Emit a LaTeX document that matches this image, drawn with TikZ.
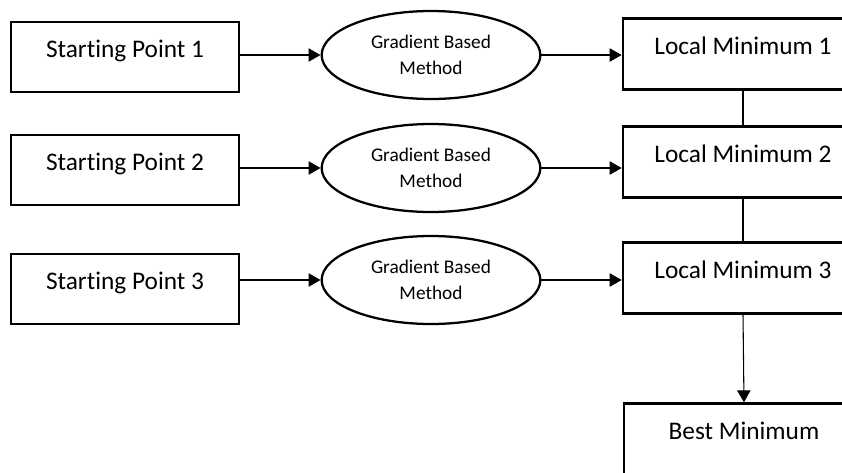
\documentclass[tikz,border=0pt]{standalone}
\usepackage{fontspec}
\setmainfont{Carlito}[Ligatures=NoCommon]
\usetikzlibrary{arrows.meta, shapes.geometric}
\definecolor{flowline}{HTML}{000000}

\begin{document}
\begin{tikzpicture}[
    x=0.75pt, y=-0.75pt,
    startnode/.style={
        draw,
        line width=2pt,
        minimum width=171pt,
        minimum height=52.5pt,
        font=\fontsize{19}{23}\selectfont,
        text height=12.3pt,
        text depth=12pt
    },
    minnode/.style={
        startnode,
        minimum width=180pt,
        minimum height=53pt
    },
    methodnode/.style={
        draw,
        ellipse,
        line width=1.7pt,
        inner sep=0pt,
        minimum width=164pt,
        minimum height=66pt,
        align=center,
        font=\fontsize{14.5}{19.5}\selectfont
    },
    flowlink/.style={
        -{Triangle[length=9pt, width=10pt]},
        line width=0.8pt,
        flowline
    },
    joinlink/.style={
        line width=0.8pt,
        flowline
    }
]
    \useasboundingbox (0,0) rectangle (842,472);
    \clip (0,0) rectangle (842,472);

    \node[startnode] (sp1) at (125,57) {Starting Point 1};
    \node[startnode] (sp2) at (125,170) {Starting Point 2};
    \node[startnode] (sp3) at (125,289) {Starting Point 3};

    \node[methodnode] (gbm1) at (431,55) {Gradient Based\\Method};
    \node[methodnode] (gbm2) at (431,168) {Gradient Based\\Method};
    \node[methodnode] (gbm3) at (431,280) {Gradient Based\\Method};

    \node[minnode] (lm1) at (743,54) {Local Minimum 1};
    \node[minnode] (lm2) at (743,162) {Local Minimum 2};
    \node[minnode] (lm3) at (743,278) {Local Minimum 3};
    \node[minnode] (best) at (744,439) {Best Minimum};

    \draw[flowlink] (sp1.east |- gbm1) -- (gbm1.west);
    \draw[flowlink] (sp2.east |- gbm2) -- (gbm2.west);
    \draw[flowlink] (sp3.east |- gbm3) -- (gbm3.west);

    \draw[flowlink] (gbm1.east) -- (gbm1.east -| lm1.west);
    \draw[flowlink] (gbm2.east) -- (gbm2.east -| lm2.west);
    \draw[flowlink] (gbm3.east) -- (gbm3.east -| lm3.west);

    \draw[joinlink] (lm1.south) -- (lm2.north);
    \draw[joinlink] (lm2.south) -- (lm3.north);
    \draw[flowlink] (lm3.south) -- (best.north);
\end{tikzpicture}
\end{document}
